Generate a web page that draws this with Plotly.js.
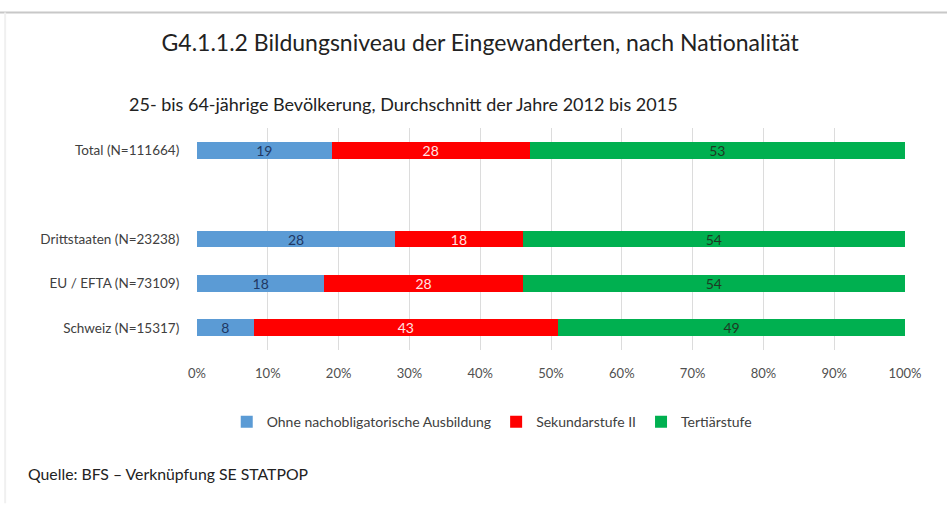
<!DOCTYPE html>
<html>
<head>
<meta charset="utf-8">
<script src="https://cdn.plot.ly/plotly-3.0.1.min.js"></script>
<style>html,body{margin:0;padding:0;background:#fff;}#chart{width:947px;height:509px;}</style>
</head>
<body>
<div id="chart"></div>
<script>
// Categories (bottom to top), with an empty slot between Total and the groups
const categories = ["Schweiz (N=15317)", "EU / EFTA (N=73109)", "Drittstaaten (N=23238)", " ", "Total (N=111664)"];
const seriesNames = ["Ohne nachobligatorische Ausbildung", "Sekundarstufe II", "Tertiärstufe"];
const ohneValues = [8, 18, 28, null, 19];
const sekValues = [43, 28, 18, null, 28];
const tertValues = [49, 54, 54, null, 53];
const tickValues = [0, 10, 20, 30, 40, 50, 60, 70, 80, 90, 100];
const tickLabels = ["0%", "10%", "20%", "30%", "40%", "50%", "60%", "70%", "80%", "90%", "100%"];

const FONT = "Lato, 'Noto Sans', sans-serif";
const colors = ["#5B9BD5", "#FF0000", "#00B050"];
const textColors = ["#1F3864", "#FFE4E4", "#1E3A24"];
const values = [ohneValues, sekValues, tertValues];

const traces = values.map((v, i) => ({
  type: "bar",
  orientation: "h",
  name: seriesNames[i],
  y: categories,
  x: v,
  text: v.map(d => d === null ? "" : String(d)),
  textposition: "inside",
  insidetextanchor: "middle",
  constraintext: "none",
  textangle: 0,
  textfont: {family: FONT, size: 14, color: textColors[i]},
  marker: {color: colors[i], line: {width: 0}},
  hoverinfo: "none"
}));

const layout = {
  width: 947, height: 509,
  paper_bgcolor: "#ffffff", plot_bgcolor: "#ffffff",
  barmode: "stack",
  bargap: 0.62,
  uniformtext: {mode: false},
  margin: {l: 197, r: 42, t: 128, b: 159},
  font: {family: FONT, color: "#404040", size: 13},
  xaxis: {
    range: [0, 100],
    tickvals: tickValues,
    ticktext: tickLabels,
    showgrid: true, gridcolor: "#DCDCDC", gridwidth: 1,
    zeroline: false, showline: false,
    ticks: "outside", ticklen: 11, tickcolor: "rgba(0,0,0,0)",
    tickfont: {family: FONT, size: 13, color: "#505050"},
    fixedrange: true
  },
  yaxis: {
    type: "category",
    categoryorder: "array", categoryarray: categories,
    showgrid: false, zeroline: false, showline: false,
    ticks: "outside", ticklen: 14, tickcolor: "rgba(0,0,0,0)",
    tickfont: {family: FONT, size: 13.5, color: "#404040"},
    fixedrange: true
  },
  showlegend: true,
  legend: {
    orientation: "h",
    x: 0.042, xanchor: "left",
    y: -0.325, yanchor: "middle",
    font: {family: FONT, size: 14, color: "#404040"},
    itemwidth: 30,
    traceorder: "normal"
  },
  title: {
    text: "G4.1.1.2 Bildungsniveau der Eingewanderten, nach Nationalität",
    font: {family: FONT, size: 23, color: "#222222"},
    x: 0.507, xanchor: "center",
    y: 0.915, yanchor: "middle"
  },
  annotations: [
    {text: "25- bis 64-jährige Bevölkerung, Durchschnitt der Jahre 2012 bis 2015",
     xref: "paper", yref: "paper", x: -0.099, y: 1.107, xanchor: "left", yanchor: "middle",
     showarrow: false, font: {family: FONT, size: 18, color: "#222222"}},
    {text: "Quelle: BFS – Verknüpfung SE STATPOP",
     xref: "paper", yref: "paper", x: -0.242, y: -0.557, xanchor: "left", yanchor: "middle",
     showarrow: false, font: {family: FONT, size: 15.8, color: "#222222"}}
  ],
  shapes: [
    {type: "line", xref: "paper", yref: "paper", x0: -0.3, x1: 1.1, y0: 1.52, y1: 1.52,
     line: {color: "#C8C8C8", width: 2}},
    {type: "line", xref: "paper", yref: "paper", x0: -0.271, x1: -0.271, y0: 1.52, y1: -0.69,
     line: {color: "#F0F0F0", width: 2}}
  ]
};

Plotly.newPlot("chart", traces, layout, {displayModeBar: false, staticPlot: true});
</script>
</body>
</html>
